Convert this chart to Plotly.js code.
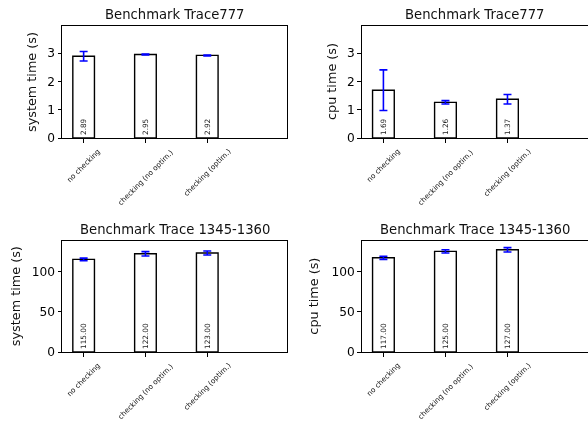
<!DOCTYPE html>
<html>
<head>
<meta charset="utf-8">
<script src="https://cdn.plot.ly/plotly-3.0.1.min.js"></script>
<style>html,body{margin:0;padding:0;background:#fff;}#chart{width:588px;height:424px;will-change:transform;}</style>
</head>
<body>
<div id="chart"></div>
<script>
// ---- data ----
var categories = ["no checking", "checking (no optim.)", "checking (optim.)"];
var titles = ["Benchmark Trace777", "Benchmark Trace777", "Benchmark Trace 1345-1360", "Benchmark Trace 1345-1360"];
var yLabels = ["system time (s)", "cpu time (s)", "system time (s)", "cpu time (s)"];
var sys777 = [2.89, 2.95, 2.92];
var sys777Err = [0.17, 0.015, 0.015];
var cpu777 = [1.69, 1.26, 1.37];
var cpu777Err = [0.72, 0.06, 0.17];
var sys1345 = [115.00, 122.00, 123.00];
var sys1345Err = [1.6, 2.7, 2.5];
var cpu1345 = [117.00, 125.00, 127.00];
var cpu1345Err = [2.0, 2.0, 2.7];
var topTicks = [0, 1, 2, 3];
var bottomTicks = [0, 50, 100];

var W = 588, H = 424;
var FONT = "DejaVu Sans, sans-serif";
var series = [sys777, cpu777, sys1345, cpu1345];
var errs = [sys777Err, cpu777Err, sys1345Err, cpu1345Err];
// pixel boxes of the four axes: [left, right, top, bottom]
var boxes = [[62, 287, 26, 138], [361.7, 587.5, 26, 138], [62, 287, 241.3, 352], [361.7, 587.5, 241.3, 352]];
var yRanges = [[0, 3.96], [0, 3.96], [0, 137.5], [0, 137.5]];
var yTicks = [topTicks, topTicks, bottomTicks, bottomTicks];
var yTitleX = [31, 331, 15.5, 314];

var xpos = categories.map(function(c, i){ return i; });
var traces = [];
var layout = {
  width: W, height: H,
  margin: {l: 0, r: 0, t: 0, b: 0},
  paper_bgcolor: "#fff", plot_bgcolor: "#fff",
  showlegend: false,
  font: {family: FONT, color: "#000"},
  annotations: []
};

for (var k = 0; k < 4; k++) {
  var sfx = k === 0 ? "" : String(k + 1);
  var b = boxes[k];
  traces.push({
    type: "bar",
    x: xpos,
    y: series[k],
    width: 0.35,
    xaxis: "x" + sfx, yaxis: "y" + sfx,
    marker: {color: "#ffffff", line: {color: "#000000", width: 1.4}},
    error_y: {type: "data", array: errs[k], visible: true, color: "#0000ff", thickness: 1.6, width: 4},
    text: series[k].map(function(v){ return v.toFixed(2); }),
    textposition: "inside",
    insidetextanchor: "start",
    textangle: -90,
    insidetextfont: {family: FONT, size: 7.3, color: "#222"},
    constraintext: "none",
    cliponaxis: false,
    hoverinfo: "skip"
  });
  layout["xaxis" + sfx] = {
    domain: [b[0] / W, b[1] / W],
    anchor: "y" + sfx,
    range: [-0.35, 3.29],
    tickvals: xpos,
    showticklabels: false,
    ticks: "outside", ticklen: 3.5, tickwidth: 1, tickcolor: "#000",
    showline: true, linecolor: "#000", linewidth: 1, mirror: true,
    showgrid: false, zeroline: false, fixedrange: true
  };
  layout["yaxis" + sfx] = {
    domain: [(H - b[3]) / H, (H - b[2]) / H],
    anchor: "x" + sfx,
    range: yRanges[k],
    tickvals: yTicks[k],
    ticks: "outside", ticklen: 3.5, tickwidth: 1, tickcolor: "#000",
    tickfont: {family: FONT, size: 12.2, color: "#000"},
    showline: true, linecolor: "#000", linewidth: 1, mirror: true,
    showgrid: false, zeroline: false, fixedrange: true
  };
  // subplot title
  layout.annotations.push({
    text: titles[k], xref: "paper", yref: "paper",
    x: (b[0] + b[1]) / 2 / W, y: (H - b[2]) / H,
    xanchor: "center", yanchor: "bottom", yshift: 2, showarrow: false,
    font: {family: FONT, size: 13.2, color: "#111"}
  });
  // y-axis title
  layout.annotations.push({
    text: yLabels[k], xref: "paper", yref: "paper",
    x: yTitleX[k] / W, y: (H - (b[2] + b[3]) / 2) / H,
    xanchor: "center", yanchor: "middle", textangle: -90, showarrow: false,
    font: {family: FONT, size: 12.8, color: "#111"}
  });
  // rotated category labels
  for (var i = 0; i < categories.length; i++) {
    layout.annotations.push({
      text: categories[i], xref: "x" + sfx, yref: "paper",
      x: xpos[i], y: (H - b[3]) / H, yshift: -8,
      xanchor: "center", yanchor: "top", textangle: -45, showarrow: false,
      borderpad: 0,
      font: {family: FONT, size: 7.2, color: "#111"}
    });
  }
}

Plotly.newPlot("chart", traces, layout, {staticPlot: true, displayModeBar: false});
</script>
</body>
</html>
